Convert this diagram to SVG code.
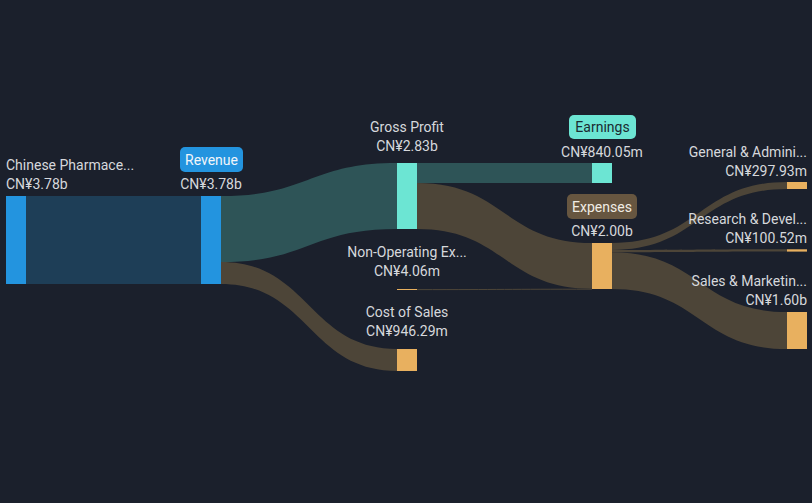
<svg xmlns="http://www.w3.org/2000/svg" width="812" height="503" viewBox="0 0 812 503">
<style>
text{font-family:Roboto,"Liberation Sans",sans-serif;font-size:14px;fill:#d6d8dc}
.c{text-anchor:middle}
.r{text-anchor:end}
.blue{fill:#2394df}
.teal{fill:#6ce5d3}
.orange{fill:#e8b05f}
.lb{fill:#1e3e57}
.lt{fill:#2e5457}
.lo{fill:#4d4538}
</style>
<rect width="812" height="503" fill="#1b202c"/>
<g id="connectors">
<rect class="lb" x="26" y="196" width="175" height="88"/>
<path class="lt" d="M221,196 C309,196 309,163 397,163 L397,229 C309,229 309,262 221,262 Z"/>
<path class="lo" d="M221,262 C309,262 309,349 397,349 L397,371 C309,371 309,284 221,284 Z"/>
<rect class="lt" x="417" y="163" width="175" height="20"/>
<path class="lo" d="M417,183 C504.5,183 504.5,243 592,243 L592,288.8 C504.5,288.8 504.5,229 417,229 Z"/>
<path d="M417,289.6 C504.5,289.6 504.5,289.2 592,289.2" stroke="#4d4538" stroke-width="1" fill="none"/>
<path class="lo" d="M612,243 C699.5,243 699.5,182 787,182 L787,189 C699.5,189 699.5,250 612,250 Z"/>
<path class="lo" d="M612,250 C699.5,250 699.5,249.3 787,249.3 L787,251.6 C699.5,251.6 699.5,252.3 612,252.3 Z"/>
<path class="lo" d="M612,252.3 C699.5,252.3 699.5,312 787,312 L787,349 C699.5,349 699.5,289 612,289 Z"/>
</g>
<g id="node-chinese-pharma">
<rect class="blue" x="6" y="196" width="20" height="88"/>
<text x="6" y="170">Chinese Pharmace...</text>
<text x="6" y="189">CN¥3.78b</text>
</g>
<g id="node-revenue">
<rect class="blue" x="201" y="196" width="20" height="88"/>
<rect x="180" y="147" width="63" height="25" rx="5" fill="#2394df"/>
<text class="c" x="211.5" y="164.5" style="fill:#f2f6fa">Revenue</text>
<text class="c" x="211" y="189">CN¥3.78b</text>
</g>
<g id="node-gross-profit">
<rect class="teal" x="397" y="163" width="20" height="66"/>
<text class="c" x="407" y="132">Gross Profit</text>
<text class="c" x="407" y="151">CN¥2.83b</text>
</g>
<g id="node-nonop">
<rect class="orange" x="397" y="289" width="20" height="1"/>
<text class="c" x="407" y="257">Non-Operating Ex...</text>
<text class="c" x="407" y="276">CN¥4.06m</text>
</g>
<g id="node-cost-of-sales">
<rect class="orange" x="397" y="349" width="20" height="22"/>
<text class="c" x="407" y="317">Cost of Sales</text>
<text class="c" x="407" y="336">CN¥946.29m</text>
</g>
<g id="node-earnings">
<rect class="teal" x="592" y="163" width="20" height="20"/>
<rect x="569" y="115" width="67" height="24" rx="5" fill="#6ce5d3"/>
<text class="c" x="602.5" y="132" style="fill:#1b2a30">Earnings</text>
<text class="c" x="602" y="157">CN¥840.05m</text>
</g>
<g id="node-expenses">
<rect class="orange" x="592" y="243" width="20" height="46"/>
<rect x="567" y="194" width="70" height="25" rx="5" fill="#675640"/>
<text class="c" x="602" y="212" style="fill:#f0ece4">Expenses</text>
<text class="c" x="602" y="236">CN¥2.00b</text>
</g>
<g id="node-ga">
<rect class="orange" x="787" y="182" width="20" height="7"/>
<text class="r" x="807" y="157">General &amp; Admini...</text>
<text class="r" x="807" y="176">CN¥297.93m</text>
</g>
<g id="node-rd">
<rect class="orange" x="787" y="249.3" width="20" height="2.3"/>
<text class="r" x="807" y="224">Research &amp; Devel...</text>
<text class="r" x="807" y="243">CN¥100.52m</text>
</g>
<g id="node-sm">
<rect class="orange" x="787" y="312" width="20" height="37"/>
<text class="r" x="807" y="286">Sales &amp; Marketin...</text>
<text class="r" x="807" y="305">CN¥1.60b</text>
</g>
</svg>
